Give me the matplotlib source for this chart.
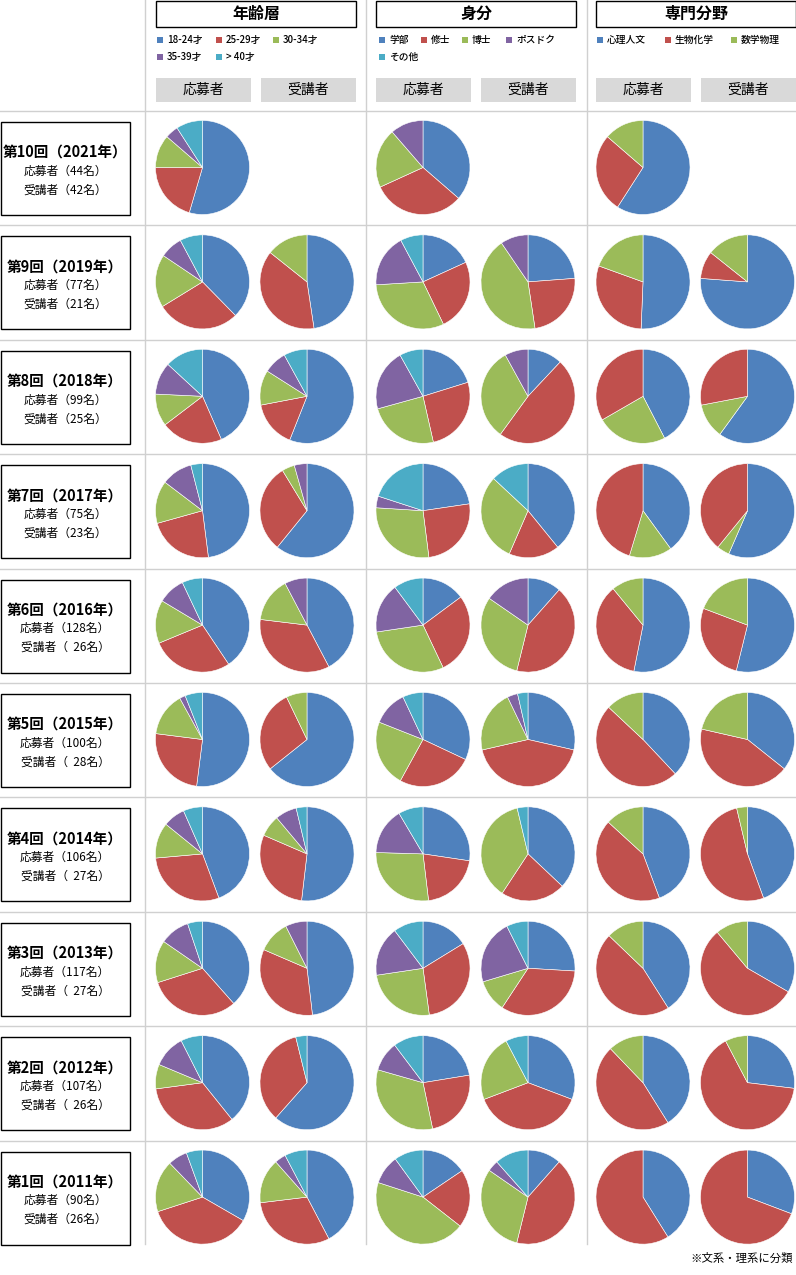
import matplotlib.pyplot as plt
from matplotlib.patches import Rectangle

plt.rcParams['font.family'] = ['Noto Sans CJK JP', 'DejaVu Sans']

# 回・年・人数（上から順）
rounds = [10, 9, 8, 7, 6, 5, 4, 3, 2, 1]
years = [2021, 2019, 2018, 2017, 2016, 2015, 2014, 2013, 2012, 2011]
n_applicants = [44, 77, 99, 75, 128, 100, 106, 117, 107, 90]
n_attendees = [42, 21, 25, 23, 26, 28, 27, 27, 26, 26]

age_labels = ['18-24才', '25-29才', '30-34才', '35-39才', '> 40才']
status_labels = ['学部', '修士', '博士', 'ポスドク', 'その他']
field_labels = ['心理人文', '生物化学', '数学物理']

# 年齢層
age_app = [[24, 9, 5, 2, 4], [29, 22, 14, 6, 6], [43, 21, 11, 11, 13],
           [36, 17, 11, 8, 3], [52, 36, 19, 12, 9], [52, 25, 15, 2, 6],
           [47, 31, 13, 8, 7], [45, 37, 17, 12, 6], [42, 36, 9, 12, 8],
           [30, 33, 16, 6, 5]]
age_att = [None, [10, 8, 3, 0, 0], [14, 4, 3, 2, 2], [14, 7, 1, 1, 0],
           [11, 9, 4, 2, 0], [18, 8, 2, 0, 0], [14, 8, 2, 2, 1],
           [13, 9, 3, 2, 0], [16, 9, 0, 0, 1], [11, 8, 4, 1, 2]]

# 身分
status_app = [[16, 14, 9, 5, 0], [14, 19, 24, 14, 6], [20, 26, 24, 21, 8],
              [17, 19, 21, 3, 15], [19, 36, 38, 22, 13], [32, 26, 23, 12, 7],
              [29, 22, 29, 17, 9], [19, 37, 29, 20, 12], [24, 26, 35, 11, 11],
              [14, 18, 40, 9, 9]]
status_att = [None, [5, 5, 9, 2, 0], [3, 12, 8, 2, 0], [9, 4, 7, 0, 3],
              [3, 11, 8, 4, 0], [8, 12, 6, 1, 1], [10, 6, 10, 0, 1],
              [7, 9, 3, 6, 2], [8, 10, 6, 0, 2], [3, 11, 8, 1, 3]]

# 専門分野
field_app = [[26, 12, 6], [39, 23, 15], [42, 33, 24], [30, 34, 11],
             [68, 46, 14], [38, 49, 13], [47, 45, 14], [48, 54, 15],
             [44, 50, 13], [37, 53, 0]]
field_att = [None, [16, 2, 3], [15, 7, 3], [13, 9, 1], [14, 7, 5],
             [10, 12, 6], [12, 14, 1], [9, 15, 3], [7, 17, 2], [8, 18, 0]]
# 第8回・第7回は 数学物理 が 生物化学 より先に並んでいる
field_green_first = [8, 7]

colors = ['#4F81BD', '#C0504D', '#9BBB59', '#8064A2', '#4BACC6']
grid_col = '#D0D0D0'

W, H = 796, 1275
fig = plt.figure(figsize=(W / 100, H / 100), dpi=100)
ax0 = fig.add_axes([0, 0, 1, 1])
ax0.set_xlim(0, W)
ax0.set_ylim(H, 0)
ax0.axis('off')

row_top0 = 111
row_h = 114.4

# 罫線
for xv in [145, 366, 587]:
    ax0.plot([xv, xv], [0, 1244], color=grid_col, lw=1)
for i in range(10):
    y = row_top0 + i * row_h
    ax0.plot([0, W], [y, y], color=grid_col, lw=1)

# ヘッダー
groups = [('年齢層', 156, age_labels), ('身分', 376, status_labels),
          ('専門分野', 596, field_labels)]
legend_pos = {
    '年齢層': [(157, 40), (216, 40), (273, 40), (157, 57), (216, 57)],
    '身分': [(379, 40), (421, 40), (462, 40), (506, 40), (379, 57)],
    '専門分野': [(597, 40), (665, 40), (731, 40)],
}
for title, x0, labels in groups:
    ax0.add_patch(Rectangle((x0, 0.5), 199.5, 26.5, fill=False,
                            edgecolor='black', lw=1))
    ax0.text(x0 + 100, 14, title, ha='center', va='center',
             fontsize=11.5, fontweight='bold')
    for k, lab in enumerate(labels):
        lx, ly = legend_pos[title][k]
        ax0.add_patch(Rectangle((lx, ly - 3), 6, 6, facecolor=colors[k],
                                edgecolor='none'))
        ax0.text(lx + 10, ly, lab, ha='left', va='center', fontsize=7,
                 fontweight='medium')
    for j, lab in enumerate(['応募者', '受講者']):
        bx = x0 + j * 105
        ax0.add_patch(Rectangle((bx, 78), 95, 23.5, facecolor='#D9D9D9',
                                edgecolor='none'))
        ax0.text(bx + 47.5, 90, lab, ha='center', va='center', fontsize=10)

# 左の見出し
for i in range(10):
    top = row_top0 + i * row_h
    ax0.add_patch(Rectangle((1, top + 11), 129, 93, fill=False,
                            edgecolor='black', lw=1))
    ax0.text(65, top + 41, f'第{rounds[i]}回（{years[i]}年）', ha='center',
             va='center', fontsize=10.5, fontweight='bold')
    ax0.text(65, top + 60, f'応募者（{n_applicants[i]}名）', ha='center',
             va='center', fontsize=8.5)
    pad = '  ' if n_applicants[i] >= 100 else ''
    ax0.text(65, top + 79, f'受講者（{pad}{n_attendees[i]}名）', ha='center',
             va='center', fontsize=8.5)

ax0.text(793, 1258, '※文系・理系に分類', ha='right', va='center', fontsize=8.2)


def draw_pie(cx, cy, values, order=None):
    r = 47.5
    ax = fig.add_axes([(cx - r) / W, 1 - (cy + r) / H, 2 * r / W, 2 * r / H])
    idx = order if order else range(len(values))
    vals = [values[k] for k in idx if values[k] > 0]
    cols = [colors[k] for k in idx if values[k] > 0]
    ax.pie(vals, colors=cols, startangle=90, counterclock=False,
           wedgeprops=dict(edgecolor='white', linewidth=0.4))
    ax.set_xlim(-1.01, 1.01)
    ax.set_ylim(-1.01, 1.01)


pie_x = [202.5, 307, 423, 528, 643, 747.5]
for i in range(10):
    cy = 167.5 + i * row_h
    forder = [0, 2, 1] if rounds[i] in field_green_first else None
    draw_pie(pie_x[0], cy, age_app[i])
    draw_pie(pie_x[2], cy, status_app[i])
    draw_pie(pie_x[4], cy, field_app[i], forder)
    if age_att[i] is not None:
        draw_pie(pie_x[1], cy, age_att[i])
        draw_pie(pie_x[3], cy, status_att[i])
        draw_pie(pie_x[5], cy, field_att[i], forder)

fig.savefig('out.png', dpi=100)
